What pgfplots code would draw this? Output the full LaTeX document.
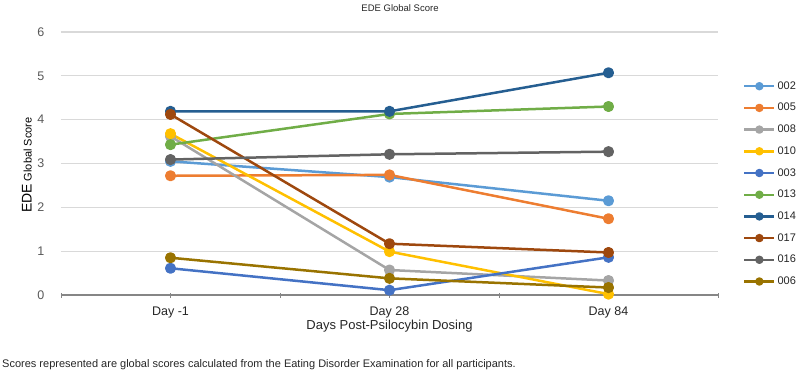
\documentclass[border=0pt]{standalone}
\usepackage{fontspec}
\setmainfont{Liberation Sans}
\usepackage{pgfplots}
\pgfplotsset{compat=1.18}
\definecolor{c002}{HTML}{5B9BD5}
\definecolor{c005}{HTML}{ED7D31}
\definecolor{c008}{HTML}{A5A5A5}
\definecolor{c010}{HTML}{FFC000}
\definecolor{c003}{HTML}{4472C4}
\definecolor{c013}{HTML}{70AD47}
\definecolor{c014}{HTML}{255E91}
\definecolor{c017}{HTML}{9E480E}
\definecolor{c016}{HTML}{636363}
\definecolor{c006}{HTML}{997300}
\definecolor{gridgray}{HTML}{D9D9D9}
\definecolor{axisgray}{HTML}{868686}
\definecolor{lblgray}{HTML}{595959}
\definecolor{txtgray}{HTML}{262626}
\begin{document}
\begin{tikzpicture}
\path[use as bounding box] (-61pt,-80pt) rectangle (739pt,295pt);
\begin{axis}[
  at={(0pt,0pt)}, anchor=south west,
  scale only axis, width=657pt, height=263pt,
  xmin=-0.5, xmax=2.5, ymin=0, ymax=6,
  clip=false,
  /pgf/number format/assume math mode=true,
  axis line style={draw=none},
  xtick={0,1,2}, xticklabels={Day -1, Day 28, Day 84},
  extra x ticks={-0.5,0.5,1.5,2.5}, extra x tick labels={},
  xtick pos=lower, tick align=center, major tick length=5pt,
  xtick style={draw=axisgray, line width=0.8pt},
  ytick={0,1,...,6}, ytick style={draw=none},
  extra y ticks={0}, extra y tick labels={},
  extra y tick style={grid=major, major grid style={draw=axisgray, line width=1.4pt}, ytick style={draw=none}},
  ymajorgrids, major grid style={draw=gridgray, line width=1.1pt},
  xticklabel style={font=\fontsize{12.5}{13}\selectfont, text=txtgray, anchor=center, yshift=-15pt},
  yticklabel style={font=\fontsize{12.5}{13}\selectfont, text=lblgray, anchor=east, inner sep=0pt, xshift=-14pt},
  title={EDE Global Score},
  title style={font=\fontsize{9.5}{10}\selectfont, text=txtgray, at={(axis description cs:0.516,1)}, anchor=center, yshift=18pt},
  xlabel={Days Post-Psilocybin Dosing},
  xlabel style={font=\fontsize{13}{14}\selectfont, text=txtgray, at={(axis description cs:0.5,0)}, anchor=center, yshift=-31pt},
  ylabel={{\fontsize{14}{15}\selectfont EDE} {\fontsize{11}{12}\selectfont Global Score}},
  ylabel style={text=black, at={(axis description cs:-0.052,0.494)}, anchor=center, rotate=0},
  every axis plot/.append style={line width=2.5pt, mark=*, mark size=4.3pt, line join=round, mark options={solid}},
  legend image code/.code={\draw[mark repeat=2, mark phase=2, mark size=3pt, line width=2.4pt] plot coordinates {(0pt,0pt) (15pt,0pt) (30pt,0pt)};},
  legend cell align=left,
  legend style={draw=none, fill=none, at={(axis description cs:1.038,0.8137)}, anchor=north west,
    font=\fontsize{11}{11}\selectfont, text=txtgray, inner sep=0pt, row sep=11.7pt,
    nodes={text height=8pt, text depth=2pt, inner ysep=0pt, inner xsep=2pt}},
]
\addplot[color=c002] coordinates {(0,3.05) (1,2.69) (2,2.15)};
\addlegendentry{002}
\addplot[color=c005] coordinates {(0,2.72) (1,2.74) (2,1.74)};
\addlegendentry{005}
\addplot[color=c008] coordinates {(0,3.62) (1,0.57) (2,0.33)};
\addlegendentry{008}
\addplot[color=c010] coordinates {(0,3.68) (1,0.99) (2,0.02)};
\addlegendentry{010}
\addplot[color=c003] coordinates {(0,0.61) (1,0.11) (2,0.86)};
\addlegendentry{003}
\addplot[color=c013] coordinates {(0,3.43) (1,4.13) (2,4.30)};
\addlegendentry{013}
\addplot[color=c014] coordinates {(0,4.19) (1,4.19) (2,5.07)};
\addlegendentry{014}
\addplot[color=c017] coordinates {(0,4.12) (1,1.17) (2,0.97)};
\addlegendentry{017}
\addplot[color=c016] coordinates {(0,3.09) (1,3.21) (2,3.27)};
\addlegendentry{016}
\addplot[color=c006] coordinates {(0,0.85) (1,0.38) (2,0.17)};
\addlegendentry{006}
\end{axis}
\node[anchor=west, inner sep=0pt, font=\fontsize{11}{12}\selectfont, text=txtgray] at (-59pt,-70pt) {Scores represented are global scores calculated from the Eating Disorder Examination for all participants.};
\end{tikzpicture}
\end{document}
